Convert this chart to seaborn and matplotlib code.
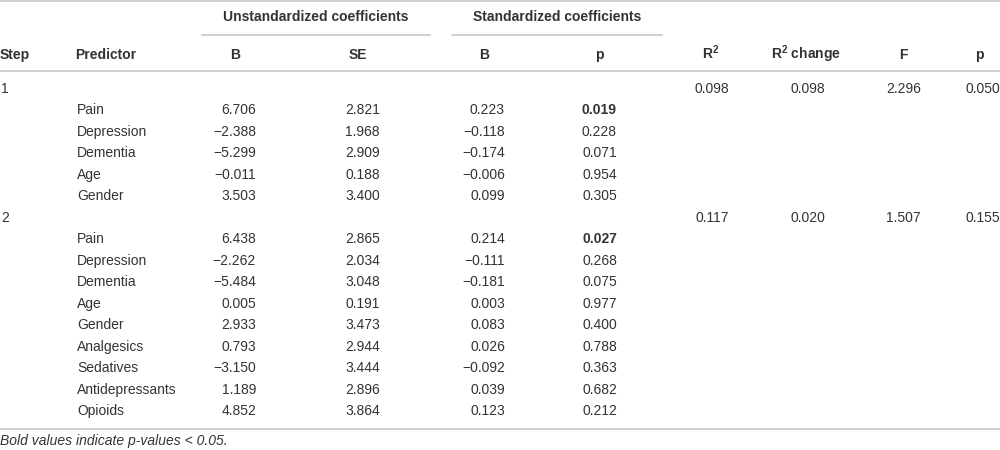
import matplotlib
matplotlib.use("Agg")
import matplotlib.pyplot as plt
import seaborn as sns

# table contents
steps = ["1", "", "", "", "", "", "2", "", "", "", "", "", "", "", "", ""]
predictors = ["", "Pain", "Depression", "Dementia", "Age", "Gender",
              "", "Pain", "Depression", "Dementia", "Age", "Gender",
              "Analgesics", "Sedatives", "Antidepressants", "Opioids"]
b_unstd = ["", "6.706", "\u22122.388", "\u22125.299", "\u22120.011", "3.503",
           "", "6.438", "\u22122.262", "\u22125.484", "0.005", "2.933",
           "0.793", "\u22123.150", "1.189", "4.852"]
se_unstd = ["", "2.821", "1.968", "2.909", "0.188", "3.400",
            "", "2.865", "2.034", "3.048", "0.191", "3.473",
            "2.944", "3.444", "2.896", "3.864"]
b_std = ["", "0.223", "\u22120.118", "\u22120.174", "\u22120.006", "0.099",
         "", "0.214", "\u22120.111", "\u22120.181", "0.003", "0.083",
         "0.026", "\u22120.092", "0.039", "0.123"]
p_std = ["", "0.019", "0.228", "0.071", "0.954", "0.305",
         "", "0.027", "0.268", "0.075", "0.977", "0.400",
         "0.788", "0.363", "0.682", "0.212"]
bold_p = ["0.019", "0.027"]
r2 = ["0.098", "", "", "", "", "", "0.117", "", "", "", "", "", "", "", "", ""]
r2_change = ["0.098", "", "", "", "", "", "0.020", "", "", "", "", "", "", "", "", ""]
f_val = ["2.296", "", "", "", "", "", "1.507", "", "", "", "", "", "", "", "", ""]
p_model = ["0.050", "", "", "", "", "", "0.155", "", "", "", "", "", "", "", "", ""]

headers = ["Step", "Predictor", "B", "SE", "B", "p",
           r"R$^\mathbf{2}$", r"R$^\mathbf{2}$ change", "F", "p"]
groups = ["Unstandardized coefficients", "Standardized coefficients"]
footnote = "Bold values indicate p-values < 0.05."

sns.set_theme(style="white")
plt.rcParams["font.family"] = ["Liberation Sans", "DejaVu Sans"]
plt.rcParams["mathtext.fontset"] = "custom"
plt.rcParams["mathtext.rm"] = "Liberation Sans:bold"
plt.rcParams["mathtext.bf"] = "Liberation Sans:bold"

fig = plt.figure(figsize=(10, 4.5), dpi=100)
ax = fig.add_axes([0, 0, 1, 1])
ax.set_xlim(0, 1000)
ax.set_ylim(450, 0)
ax.axis("off")

txt = "#333333"
line_c = "#cccccc"
fs = 10
half = 4.2  # half cap height in px, to put the baseline under the row centre

# rules
ax.plot([0, 1000], [1, 1], color=line_c, lw=1.3)
ax.plot([202, 430], [35, 35], color=line_c, lw=1.3)
ax.plot([452, 662], [35, 35], color=line_c, lw=1.3)
ax.plot([0, 1000], [71, 71], color=line_c, lw=1.3)
ax.plot([0, 1000], [429, 429], color=line_c, lw=1.3)

# group headers
ax.text(316, 17 + half, groups[0], ha="center", va="baseline", fontsize=fs, fontweight="bold", color=txt)
ax.text(557, 17 + half, groups[1], ha="center", va="baseline", fontsize=fs, fontweight="bold", color=txt)

# column headers
head_x = [0, 75, 235, 358, 484, 599, 711, 806, 903, 979]
for i, h in enumerate(headers):
    ha = "left" if i < 2 else "center"
    ax.text(head_x[i], 55 + half, h, ha=ha, va="baseline", fontsize=fs, fontweight="bold", color=txt)

# body
row_y = [88.5 + 21.5 * i for i in range(len(predictors))]
right_cols = [(256, b_unstd), (380, se_unstd), (505, b_std), (617, p_std),
              (729, r2), (825, r2_change), (921, f_val), (1000, p_model)]
for i, y in enumerate(row_y):
    yb = y + half
    ax.text(1, yb, steps[i], ha="left", va="baseline", fontsize=fs, color=txt)
    ax.text(77, yb, predictors[i], ha="left", va="baseline", fontsize=fs, color=txt)
    for x, col in right_cols:
        val = col[i]
        w = "bold" if (col is p_std and val in bold_p) else "normal"
        ax.text(x, yb, val, ha="right", va="baseline", fontsize=fs, color=txt, fontweight=w)

ax.text(0, 441 + half, footnote, ha="left", va="baseline", fontsize=fs, style="italic", color=txt)

fig.savefig("out.png", dpi=100)
